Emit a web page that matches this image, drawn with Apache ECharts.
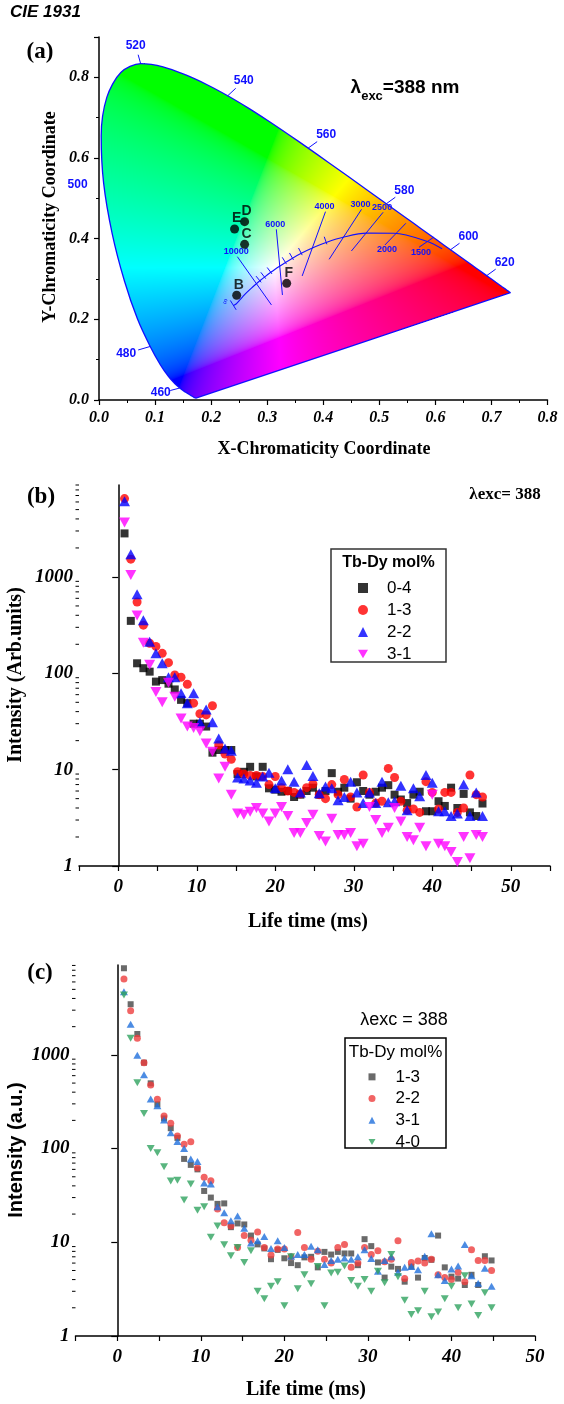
<!DOCTYPE html>
<html><head><meta charset="utf-8">
<script src="https://cdn.jsdelivr.net/npm/echarts/dist/echarts.min.js"></script>
<style>html,body{margin:0;padding:0;background:#fff}#c{width:564px;height:1404px}</style>
</head><body><div id="c"></div><script>
// ---------- Panel (a) data: CIE 1931 spectral locus ----------
const wavelengths = [380,385,390,395,400,405,410,415,420,425,430,435,440,445,450,455,460,465,470,475,480,485,490,495,500,505,510,515,520,525,530,535,540,545,550,555,560,565,570,575,580,585,590,595,600,605,610,615,620,625,630,635,640,645,650,655,660,665,670,675,680,685,690,695,700];
const locusX = [0.1741,0.1740,0.1738,0.1736,0.1733,0.1730,0.1726,0.1721,0.1714,0.1703,0.1689,0.1669,0.1644,0.1611,0.1566,0.1510,0.1440,0.1355,0.1241,0.1096,0.0913,0.0687,0.0454,0.0235,0.0082,0.0039,0.0139,0.0389,0.0743,0.1142,0.1547,0.1929,0.2296,0.2658,0.3016,0.3373,0.3731,0.4087,0.4441,0.4788,0.5125,0.5448,0.5752,0.6029,0.6270,0.6482,0.6658,0.6801,0.6915,0.7006,0.7079,0.7140,0.7190,0.7230,0.7260,0.7283,0.7300,0.7311,0.7320,0.7327,0.7334,0.7340,0.7344,0.7346,0.7347];
const locusY = [0.0050,0.0050,0.0049,0.0049,0.0048,0.0048,0.0048,0.0048,0.0051,0.0058,0.0069,0.0086,0.0109,0.0138,0.0177,0.0227,0.0297,0.0399,0.0578,0.0868,0.1327,0.2007,0.2950,0.4127,0.5384,0.6548,0.7502,0.8120,0.8338,0.8262,0.8059,0.7816,0.7543,0.7243,0.6923,0.6589,0.6245,0.5896,0.5547,0.5202,0.4866,0.4544,0.4242,0.3965,0.3725,0.3514,0.3340,0.3197,0.3083,0.2993,0.2920,0.2859,0.2809,0.2770,0.2740,0.2717,0.2700,0.2689,0.2680,0.2673,0.2666,0.2660,0.2656,0.2654,0.2653];
const wlLabels = ['460','480','500','520','540','560','580','600','620'];
// Planckian locus
const planckT = ['inf',50000,30000,20000,15000,12000,10000,9000,8000,7000,6500,6000,5500,5000,4500,4000,3500,3000,2500,2000,1500,1250];
const planckX = [0.2399,0.2451,0.2501,0.2565,0.2637,0.2719,0.2807,0.2869,0.2952,0.3064,0.3135,0.3221,0.3325,0.3451,0.3608,0.3805,0.4053,0.4369,0.4770,0.5267,0.5857,0.6120];
const planckY = [0.2342,0.2387,0.2465,0.2564,0.2670,0.2776,0.2883,0.2956,0.3048,0.3166,0.3237,0.3318,0.3411,0.3516,0.3636,0.3768,0.3907,0.4041,0.4137,0.4133,0.3931,0.3750];
const planckTicks = ['inf',9000,8000,7000,5500,5000,4500,3500];
// iso-temperature lines
const isoLabels = ['10000','6000','4000','3000','2500','2000','1500'];
const isoX1 = [0.2468,0.3163,0.4040,0.4683,0.5068,0.5473,0.5967];
const isoY1 = [0.3553,0.4232,0.4669,0.4728,0.4654,0.4381,0.4034];
const isoX2 = [0.3076,0.3272,0.3624,0.4105,0.4502,0.5100,0.5708];
const isoY2 = [0.2357,0.2604,0.3075,0.3488,0.3694,0.3843,0.3786];
// sample points
const sampleNames = ['B','C','D','E','F'];
const sampleX = [0.2456,0.2597,0.2597,0.2418,0.3348];
const sampleY = [0.2596,0.3860,0.4422,0.4240,0.2893];

// ---------- Panel (b) ----------
const timeB = [0.8,1.6,2.4,3.2,4.0,4.8,5.6,6.4,7.2,8.0,8.8,9.6,10.4,11.2,12.0,12.8,13.6,14.4,15.2,16.0,16.8,17.6,18.4,19.2,20.0,20.8,21.6,22.4,23.2,24.0,24.8,25.6,26.4,27.2,28.0,28.8,29.6,30.4,31.2,32.0,32.8,33.6,34.4,35.2,36.0,36.8,37.6,38.4,39.2,40.0,40.8,41.6,42.4,43.2,44.0,44.8,45.6,46.4];
const namesB = ['0-4','1-3','2-2','3-1'];
const b04 = [2830,350,127,113,104,82,85,78,68,53,49,30,30,28,15,16,16,16,9,9.5,10.7,8.5,10.7,6.4,6.2,5.9,6.0,5.2,5.5,6.0,6.5,5.5,6.0,9.2,5.9,6.5,5.0,7.4,6.0,5.5,5.9,6.5,6.9,5.5,4.9,4.5,5.5,5.9,3.7,3.7,4.7,4.2,6.5,4.0,5.6,3.6,3.3,4.45];
const b13 = [6500,1530,550,316,205,190,161,129,96,91,77,49,38,37,46,18,14.5,12.8,9.5,9.0,8.7,8.7,8.5,7.0,8.5,6.5,6.0,5.8,5.6,6.5,7.1,5.5,5.0,7.0,5.5,7.9,5.2,4.1,8.8,5.8,4.5,4.7,10.3,8.3,4.7,3.8,3.9,3.6,7.5,5.8,3.9,5.8,5.8,3.6,4.0,8.8,5.5,5.2];
const b22 = [6100,1725,663,356,212,161,127,91,91,62,49,62,31,42,31,21,16.6,15.7,8.3,8.1,7.7,7.3,8.5,9.3,6.4,7.7,10.1,7.5,5.8,11.2,8.6,5.7,6.7,6.4,4.8,5.2,7.5,5.8,4.5,5.8,4.5,7.5,4.6,4.7,6.8,3.8,6.4,5.3,8.8,7.3,3.7,3.7,3.3,3.5,7.0,3.3,5.8,3.3];
const b31 = [3670,1045,399,207,123,64,50,80,57,34,28,27,25,18.7,15.3,8.1,10.7,5.5,3.5,3.4,3.65,4.0,3.5,2.9,3.5,4.1,3.3,2.2,2.2,2.8,3.4,2.05,1.8,3.1,2.1,2.1,2.2,1.6,1.7,4.1,3.0,2.2,2.5,4.0,2.9,2.0,1.85,2.5,1.6,5.5,1.7,1.6,1.4,1.1,2.0,1.2,2.1,2.0];

// ---------- Panel (c) ----------
const timeC = [0.8,1.6,2.4,3.2,4.0,4.8,5.6,6.4,7.2,8.0,8.8,9.6,10.4,11.2,12.0,12.8,13.6,14.4,15.2,16.0,16.8,17.6,18.4,19.2,20.0,20.8,21.6,22.4,23.2,24.0,24.8,25.6,26.4,27.2,28.0,28.8,29.6,30.4,31.2,32.0,32.8,33.6,34.4,35.2,36.0,36.8,37.6,38.4,39.2,40.0,40.8,41.6,42.4,43.2,44.0,44.8];
const namesC = ['1-3','2-2','3-1','4-0'];
const c13 = [8400,3470,1670,826,497,297,210,165,130,77.6,67,60,35.3,30,25.7,26,14.5,15.9,15.5,11.8,9.5,8.6,6.6,8.3,6.75,6.0,5.7,6.9,7.0,5.4,7.9,7.4,7.9,7.6,7.6,5.7,10.8,9.1,6.1,4.2,5.5,5.2,3.8,5.5,4.2,6.8,6.5,11.8,5.4,4.3,4.1,3.5,4.5,3.5,7.1,6.4];
const c22 = [6450,2960,1500,826,477,336,223,186,136,111,118,62,49.4,45.5,22.6,16.2,14.9,8.8,11.8,10.5,12.9,8.8,7.3,8.5,8.5,7.0,12.7,8.8,6.6,8.0,6.6,6.0,8.8,9.5,5.4,6.0,8.8,7.4,8.1,6.2,6.6,10.4,4.1,6.1,6.3,6.0,6.6,4.5,4.2,4.0,4.8,3.8,8.3,6.4,6.4,5.0];
const c31 = [4730,2120,990,615,338,287,202,148,119,100,77.6,73,43,42,24,20.7,17,19.1,14.1,9.8,10.4,11.5,8.6,10.4,8.8,7.1,7.4,7.4,9.1,8.3,5.8,6.4,6.6,6.8,6.6,7.0,8.3,6.7,4.9,6.4,7.0,4.8,5.4,5.5,5.1,7.1,12.3,4.5,3.9,5.2,5.6,9.5,4.4,3.65,5.3,3.4];
const c40 = [4360,1500,505,237,100,90,64,45,46,28.3,42,22,24,11.3,14.9,9.4,7.2,8.8,6.1,8.1,3.0,2.5,3.4,3.8,2.1,7.0,3.2,4.5,3.6,5.5,2.1,4.7,4.8,5.6,3.9,3.4,4.0,3.0,4.9,3.7,7.4,4.3,2.4,1.7,1.86,3.0,1.6,1.8,2.5,3.4,2.0,4.4,2.2,1.65,2.9,2.0];

const logMajorLabels = ['1','10','100','1000'];

// ---------- helpers ----------
const SERIF = 'Liberation Serif', SANS = 'Liberation Sans';
const BLUE = '#1010ff';
// smooth boundary (rendering only) used for the colour fill clip test
function smoothBoundary(xs, ys, steps) {
  const n = xs.length, px = [], py = [];
  for (let i = 0; i < n - 1; i++) {
    const i0 = Math.max(i - 1, 0), i3 = Math.min(i + 2, n - 1);
    for (let s = 0; s < steps; s++) {
      const t = s / steps, t2 = t * t, t3 = t2 * t;
      const f = (a, b, c, d) => 0.5 * ((2 * b) + (-a + c) * t + (2 * a - 5 * b + 4 * c - d) * t2 + (-a + 3 * b - 3 * c + d) * t3);
      px.push(f(xs[i0], xs[i], xs[i + 1], xs[i3])); py.push(f(ys[i0], ys[i], ys[i + 1], ys[i3]));
    }
  }
  px.push(xs[n - 1]); py.push(ys[n - 1]);
  return [px, py];
}
const BND = smoothBoundary(locusX, locusY, 6);
function pip(x, y) {
  const X = BND[0], Y = BND[1];
  let ins = false; const n = X.length;
  for (let i = 0, j = n - 1; i < n; j = i++) {
    const xi = X[i], yi = Y[i], xj = X[j], yj = Y[j];
    if (((yi > y) !== (yj > y)) && (x < (xj - xi) * (y - yi) / (yj - yi) + xi)) ins = !ins;
  }
  return ins;
}
function gam(v) { return v <= 0.0031308 ? 12.92 * v : 1.055 * Math.pow(v, 1 / 2.4) - 0.055; }
function xyToRgb(x, y) {
  const X = x / y, Y = 1, Z = (1 - x - y) / y;
  let r = 3.2406 * X - 1.5372 * Y - 0.4986 * Z;
  let g = -0.9689 * X + 1.8758 * Y + 0.0415 * Z;
  let b = 0.0557 * X - 0.2040 * Y + 1.0570 * Z;
  r = Math.max(r, 0); g = Math.max(g, 0); b = Math.max(b, 0);
  const m = Math.max(r, g, b) || 1;
  return [255 * gam(r / m), 255 * gam(g / m), 255 * gam(b / m)];
}
let cieImg = null;
function renderCIE(params, api) {
  const o = api.coord([0, 0]), u = api.coord([0.8, 0.9]);
  const sx = (u[0] - o[0]) / 0.8, sy = (o[1] - u[1]) / 0.9;
  const left = Math.floor(o[0]), top = Math.floor(o[1] - 0.84 * sy) - 1;
  const w = Math.ceil(0.74 * sx) + 3, h = Math.ceil(o[1]) - top + 1;
  if (!cieImg) {
    const cv = document.createElement('canvas'); cv.width = w; cv.height = h;
    const ctx = cv.getContext('2d'); const img = ctx.createImageData(w, h);
    for (let j = 0; j < h; j++) for (let i = 0; i < w; i++) {
      const x = (left + i + 0.5 - o[0]) / sx, y = (o[1] - (top + j + 0.5)) / sy;
      if (y <= 0.001 || !pip(x, y)) continue;
      const c = xyToRgb(x, y); const k = (j * w + i) * 4;
      img.data[k] = c[0]; img.data[k + 1] = c[1]; img.data[k + 2] = c[2]; img.data[k + 3] = 255;
    }
    ctx.putImageData(img, 0, 0); cieImg = cv;
  }
  return { type: 'image', silent: true, style: { image: cieImg, x: left, y: top, width: w, height: h } };
}
// label offsets (pixels) relative to the locus point; style only
const wlOffsets = [[-19, 5], [-24, 7], [-26, 2], [-5, -18], [16, -15], [18, -13], [18, -13], [18, -13], [18, -13]];
const wlTick = [1, 1, 0, 1, 1, 1, 1, 1, 1];
function renderWl(params, api) {
  const i = params.dataIndex; const k = wavelengths.indexOf(+wlLabels[i]);
  const p = api.coord([locusX[k], locusY[k]]); const off = wlOffsets[i];
  const ch = [];
  if (wlTick[i]) ch.push({ type: 'line', shape: { x1: p[0], y1: p[1], x2: p[0] + off[0] * 0.5, y2: p[1] + off[1] * 0.5 }, style: { stroke: BLUE, lineWidth: 1 } });
  ch.push({ type: 'text', x: p[0] + off[0], y: p[1] + off[1], style: { text: wlLabels[i], fill: BLUE, font: 'bold 12px ' + SANS, align: 'center', verticalAlign: 'middle' } });
  return { type: 'group', children: ch };
}
const isoPos = ['top', 'top', 'top', 'top', 'top', 'bottom', 'bottom'];
function renderIso(params, api) {
  const i = params.dataIndex;
  const a = api.coord([isoX1[i], isoY1[i]]), b = api.coord([isoX2[i], isoY2[i]]);
  const lp = isoPos[i] === 'top' ? [a[0] - 1, a[1] - 5] : [b[0] + 2, b[1] + 5];
  return { type: 'group', children: [
    { type: 'line', shape: { x1: a[0], y1: a[1], x2: b[0], y2: b[1] }, style: { stroke: BLUE, lineWidth: 1 } },
    { type: 'text', x: lp[0], y: lp[1], style: { text: isoLabels[i], fill: BLUE, font: 'bold 9px ' + SANS, align: 'center', verticalAlign: 'middle' } }
  ] };
}
function renderPTick(params, api) {
  const t = planckTicks[params.dataIndex]; const k = planckT.indexOf(t);
  const p = api.coord([planckX[k], planckY[k]]);
  const pa = api.coord([planckX[Math.max(k - 1, 0)], planckY[Math.max(k - 1, 0)]]);
  const pb = api.coord([planckX[k + 1], planckY[k + 1]]);
  let tx = pb[0] - pa[0], ty = pb[1] - pa[1]; const L = Math.hypot(tx, ty); tx /= L; ty /= L;
  const nx = ty, ny = -tx; const h1 = t === 'inf' ? 5 : 2, h2 = 6;
  const ch = [{ type: 'line', shape: { x1: p[0] - nx * h1, y1: p[1] - ny * h1, x2: p[0] + nx * h2, y2: p[1] + ny * h2 }, style: { stroke: BLUE, lineWidth: 1 } }];
  if (t === 'inf') ch.push({ type: 'text', x: p[0] - 8, y: p[1] - 4, rotation: 1.2, style: { text: '\u221e', fill: BLUE, font: '8px ' + SANS, align: 'center', verticalAlign: 'middle' } });
  return { type: 'group', children: ch };
}
function logMinorTicks(maxV) {
  const out = [];
  for (let d = 1; d <= 1000; d *= 10) for (let m = 2; m <= 9; m++) if (m * d <= maxV) out.push(m * d);
  return out;
}
function renderMinor(xMin) {
  return function (params, api) {
    const p = api.coord([xMin, api.value(0)]);
    return { type: 'line', shape: { x1: p[0] - 3.5, y1: p[1], x2: p[0], y2: p[1] }, style: { stroke: '#000', lineWidth: 1 } };
  };
}
function logFmt(v) {
  const l = Math.log10(v); if (Math.abs(l - Math.round(l)) > 1e-6) return '';
  return logMajorLabels[Math.round(l)] || '';
}
const tickLbl = { fontFamily: SERIF, fontWeight: 'bold', fontStyle: 'italic', color: '#000' };
const axLine = { lineStyle: { color: '#000', width: 1.5 } };
const DOWN = 'path://M0,0L2,0L1,1.732Z';

const option = {
  animation: false,
  backgroundColor: '#fff',
  grid: [
    { left: 99, right: 16.5, top: 37, height: 363 },
    { left: 79, right: 14, top: 485, height: 381 },
    { left: 75.5, right: 29, top: 965, height: 371 }
  ],
  xAxis: [
    { gridIndex: 0, type: 'value', min: 0, max: 0.8, interval: 0.1, axisLine: axLine, splitLine: { show: false },
      axisTick: { length: 5, lineStyle: { width: 1.2 } }, minorTick: { show: true, splitNumber: 2, length: 3, lineStyle: { color: '#000' } },
      axisLabel: Object.assign({ fontSize: 16, margin: 10, formatter: v => v.toFixed(1) }, tickLbl) },
    { gridIndex: 1, type: 'value', min: -5, max: 55, interval: 5, axisLine: axLine, splitLine: { show: false },
      axisTick: { length: 5, lineStyle: { width: 1.2 } },
      axisLabel: Object.assign({ fontSize: 19, margin: 12, formatter: v => (v % 10 === 0 && v >= 0 && v <= 50) ? String(v) : '' }, tickLbl) },
    { gridIndex: 2, type: 'value', min: -5, max: 50, interval: 5, axisLine: axLine, splitLine: { show: false },
      axisTick: { length: 5, lineStyle: { width: 1.2 } },
      axisLabel: Object.assign({ fontSize: 19, margin: 12, formatter: v => (v % 10 === 0 && v >= 0) ? String(v) : '' }, tickLbl) }
  ],
  yAxis: [
    { gridIndex: 0, type: 'value', min: 0, max: 0.9, interval: 0.2, axisLine: axLine, splitLine: { show: false },
      axisTick: { length: 5, lineStyle: { width: 1.2 } }, minorTick: { show: true, splitNumber: 2, length: 3, lineStyle: { color: '#000' } },
      axisLabel: Object.assign({ fontSize: 16, margin: 10, showMaxLabel: false, formatter: v => Math.abs(v * 5 - Math.round(v * 5)) < 1e-6 ? v.toFixed(1) : '' }, tickLbl) },
    { gridIndex: 1, type: 'log', logBase: 10, min: 1, max: 9000, axisLine: axLine, splitLine: { show: false },
      axisTick: { length: 6, lineStyle: { width: 1.2 } },
      axisLabel: Object.assign({ fontSize: 19, margin: 6, showMaxLabel: false, formatter: logFmt }, tickLbl) },
    { gridIndex: 2, type: 'log', logBase: 10, min: 1, max: 9100, axisLine: axLine, splitLine: { show: false },
      axisTick: { length: 6, lineStyle: { width: 1.2 } },
      axisLabel: Object.assign({ fontSize: 19, margin: 6, showMaxLabel: false, formatter: logFmt }, tickLbl) }
  ],
  legend: [
    { data: namesB, orient: 'vertical', left: 353, top: 572, itemWidth: 10, itemHeight: 10, itemGap: 0,
      selectedMode: false, textStyle: { fontFamily: SANS, fontSize: 17, color: '#000', lineHeight: 22, padding: [0, 0, 0, 14] } },
    { data: namesC.map(n => n + ' '), orient: 'vertical', left: 363.5, top: 1061, itemWidth: 7, itemHeight: 7, itemGap: 0,
      selectedMode: false, formatter: n => n.trim(), textStyle: { fontFamily: SANS, fontSize: 17, color: '#000', lineHeight: 21.7, padding: [0, 0, 0, 15] } }
  ],
  series: [
    // ----- panel (a)
    { type: 'custom', xAxisIndex: 0, yAxisIndex: 0, data: [[0, 0]], renderItem: renderCIE, silent: true, z: 1 },
    { type: 'line', xAxisIndex: 0, yAxisIndex: 0, data: locusX.map((x, i) => [x, locusY[i]]).concat([[locusX[0], locusY[0]]]),
      smooth: 0.3, showSymbol: false, symbol: 'none', lineStyle: { color: BLUE, width: 1.3 }, silent: true, z: 3 },
    { type: 'line', xAxisIndex: 0, yAxisIndex: 0, data: planckX.map((x, i) => [x, planckY[i]]), smooth: 0.3,
      showSymbol: false, symbol: 'none', lineStyle: { color: BLUE, width: 1.1 }, silent: true, z: 4 },
    { type: 'custom', xAxisIndex: 0, yAxisIndex: 0, data: isoLabels.map((l, i) => [isoX1[i], isoY1[i]]), renderItem: renderIso, clip: false, silent: true, z: 4 },
    { type: 'custom', xAxisIndex: 0, yAxisIndex: 0, data: planckTicks.map(t => [0, 0]), renderItem: renderPTick, clip: false, silent: true, z: 4 },
    { type: 'custom', xAxisIndex: 0, yAxisIndex: 0, data: wlLabels.map(w => [0, 0]), renderItem: renderWl, clip: false, silent: true, z: 5 },
    { type: 'scatter', xAxisIndex: 0, yAxisIndex: 0, symbolSize: 9, itemStyle: { color: '#000' }, z: 6,
      data: sampleNames.map((n, i) => ({ name: n, value: [sampleX[i], sampleY[i]] })),
      label: { show: true, position: 'top', distance: 0, offset: [2, 1], formatter: p => p.name, color: '#000', fontFamily: SANS, fontWeight: 'bold', fontSize: 14 } },
    // ----- panel (b)
    { type: 'custom', xAxisIndex: 1, yAxisIndex: 1, data: logMinorTicks(9000).map(v => [v]), dimensions: ['v'], encode: { y: 0 },
      renderItem: renderMinor(-5), clip: false, silent: true },
    { name: namesB[0], type: 'scatter', xAxisIndex: 1, yAxisIndex: 1, symbol: 'rect', symbolSize: 8, itemStyle: { color: '#000' }, data: timeB.map((t, i) => [t, b04[i]]) },
    { name: namesB[1], type: 'scatter', xAxisIndex: 1, yAxisIndex: 1, symbol: 'circle', symbolSize: 9, itemStyle: { color: '#ff0000' }, data: timeB.map((t, i) => [t, b13[i]]) },
    { name: namesB[2], type: 'scatter', xAxisIndex: 1, yAxisIndex: 1, symbol: 'triangle', symbolSize: [11, 10], itemStyle: { color: '#0000ff' }, data: timeB.map((t, i) => [t, b22[i]]) },
    { name: namesB[3], type: 'scatter', xAxisIndex: 1, yAxisIndex: 1, symbol: DOWN, symbolSize: [11, 10], itemStyle: { color: '#ff00ff' }, data: timeB.map((t, i) => [t, b31[i]]) },
    // ----- panel (c)
    { type: 'custom', xAxisIndex: 2, yAxisIndex: 2, data: logMinorTicks(9100).map(v => [v]), dimensions: ['v'], encode: { y: 0 },
      renderItem: renderMinor(-5), clip: false, silent: true },
    { name: namesC[0] + ' ', type: 'scatter', xAxisIndex: 2, yAxisIndex: 2, symbol: 'rect', symbolSize: 6, itemStyle: { color: '#454545' }, data: timeC.map((t, i) => [t, c13[i]]) },
    { name: namesC[1] + ' ', type: 'scatter', xAxisIndex: 2, yAxisIndex: 2, symbol: 'circle', symbolSize: 7, itemStyle: { color: '#ee3d3d' }, data: timeC.map((t, i) => [t, c22[i]]) },
    { name: namesC[2] + ' ', type: 'scatter', xAxisIndex: 2, yAxisIndex: 2, symbol: 'triangle', symbolSize: [8, 7], itemStyle: { color: '#1f6fdc' }, data: timeC.map((t, i) => [t, c31[i]]) },
    { name: namesC[3] + ' ', type: 'scatter', xAxisIndex: 2, yAxisIndex: 2, symbol: DOWN, symbolSize: [8, 7], itemStyle: { color: '#2fa35f' }, data: timeC.map((t, i) => [t, c40[i]]) }
  ],
  graphic: [
    { type: 'text', left: 10, top: 4, style: { text: 'CIE 1931', font: 'italic bold 17px ' + SANS, fill: '#000' } },
    { type: 'text', x: 40, y: 52, style: { text: '(a)', font: 'bold 23px ' + SERIF, fill: '#000', align: 'center', verticalAlign: 'middle' } },
    { type: 'text', x: 50, y: 217, rotation: Math.PI / 2, style: { text: 'Y-Chromaticity Coordinate', font: 'bold 18px ' + SERIF, fill: '#000', align: 'center', verticalAlign: 'middle' } },
    { type: 'text', x: 324, y: 449, style: { text: 'X-Chromaticity Coordinate', font: 'bold 18px ' + SERIF, fill: '#000', align: 'center', verticalAlign: 'middle' } },
    { type: 'text', x: 405, y: 88, style: { text: '{l|\u03bb}{s|exc}{l|=388 nm}', align: 'center', verticalAlign: 'middle',
      rich: { l: { font: 'bold 19px ' + SANS, fill: '#000', verticalAlign: 'bottom' }, s: { font: 'bold 13px ' + SANS, fill: '#000', verticalAlign: 'bottom', padding: [0, 0, -5, 0] } } } },
    { type: 'text', x: 276, y: 207, style: { text: '{a|T}{b|c}{a|(K)}', align: 'center', verticalAlign: 'middle',
      rich: { a: { font: '13px ' + SANS, fill: '#000' }, b: { font: '9px ' + SANS, fill: '#000', padding: [8, 0, 0, 0] } } } },
    // panel (b)
    { type: 'text', x: 41, y: 497, style: { text: '(b)', font: 'bold 23px ' + SERIF, fill: '#000', align: 'center', verticalAlign: 'middle' } },
    { type: 'text', x: 505, y: 495, style: { text: '\u03bbexc= 388', font: 'bold 17px ' + SERIF, fill: '#000', align: 'center', verticalAlign: 'middle' } },
    { type: 'text', x: 16, y: 675, rotation: Math.PI / 2, style: { text: 'Intensity (Arb.units)', font: 'bold 20px ' + SERIF, fill: '#000', align: 'center', verticalAlign: 'middle' } },
    { type: 'text', x: 308, y: 922, style: { text: 'Life time (ms)', font: 'bold 20px ' + SERIF, fill: '#000', align: 'center', verticalAlign: 'middle' } },
    { type: 'rect', shape: { x: 331, y: 549, width: 115, height: 113 }, style: { fill: 'none', stroke: '#333', lineWidth: 1.5 } },
    { type: 'text', x: 388.5, y: 563, style: { text: 'Tb-Dy mol%', font: 'bold 16px ' + SANS, fill: '#000', align: 'center', verticalAlign: 'middle' } },
    // panel (c)
    { type: 'text', x: 40, y: 973, style: { text: '(c)', font: 'bold 23px ' + SERIF, fill: '#000', align: 'center', verticalAlign: 'middle' } },
    { type: 'text', x: 404, y: 1020, style: { text: '\u03bbexc = 388', font: '18px ' + SANS, fill: '#000', align: 'center', verticalAlign: 'middle' } },
    { type: 'text', x: 16, y: 1150, rotation: Math.PI / 2, style: { text: 'Intensity (a.u.)', font: 'bold 20px ' + SANS, fill: '#000', align: 'center', verticalAlign: 'middle' } },
    { type: 'text', x: 306, y: 1390, style: { text: 'Life time (ms)', font: 'bold 20px ' + SERIF, fill: '#000', align: 'center', verticalAlign: 'middle' } },
    { type: 'rect', shape: { x: 345, y: 1038, width: 101, height: 110 }, style: { fill: 'none', stroke: '#000', lineWidth: 1.5 } },
    { type: 'text', x: 395.5, y: 1052, style: { text: 'Tb-Dy mol%', font: '17px ' + SANS, fill: '#000', align: 'center', verticalAlign: 'middle' } }
  ]
};
const chart = echarts.init(document.getElementById('c'), null, { renderer: 'canvas', width: 564, height: 1404 });
chart.setOption(option);
</script></body></html>
